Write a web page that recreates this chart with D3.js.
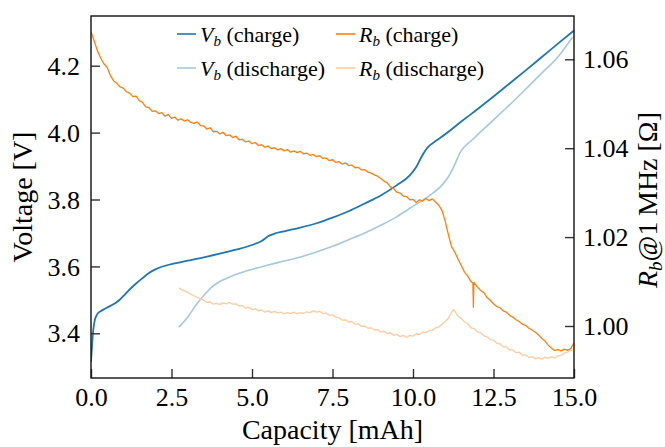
<!DOCTYPE html>
<html>
<head>
<meta charset="utf-8">
<script src="https://cdn.jsdelivr.net/npm/d3@7"></script>
<style>
  html, body { margin: 0; padding: 0; background: #fff; }
  svg { display: block; }
  svg text { font-family: "Liberation Serif", "Times New Roman", Times, Tinos, "DejaVu Serif", serif; fill: #000; }
</style>
</head>
<body>
<svg id="chart" width="665" height="447"></svg>
<script>
// Battery voltage and bulk resistance over one charge / discharge cycle

const xTicks = [0, 2.5, 5, 7.5, 10, 12.5, 15];
const vTicks = [3.4, 3.6, 3.8, 4.0, 4.2];
const rTicks = [1.00, 1.02, 1.04, 1.06];

// [capacity mAh, voltage V]
const vCharge = [
  [0.00, 3.315], [0.03, 3.36], [0.07, 3.41], [0.12, 3.44], [0.2, 3.458], [0.3, 3.466],
  [0.45, 3.474], [0.6, 3.482], [0.75, 3.490], [0.9, 3.501], [1.05, 3.516], [1.2, 3.531],
  [1.4, 3.549], [1.6, 3.565], [1.8, 3.580], [2.0, 3.591], [2.2, 3.599], [2.5, 3.607],
  [3.0, 3.617], [3.5, 3.627], [4.0, 3.638], [4.5, 3.650], [5.0, 3.664], [5.3, 3.676],
  [5.5, 3.690], [5.7, 3.698], [6.0, 3.705], [6.5, 3.716], [7.0, 3.729], [7.5, 3.746],
  [8.0, 3.765], [8.5, 3.788], [9.0, 3.812], [9.5, 3.843], [9.9, 3.872], [10.1, 3.897],
  [10.25, 3.925], [10.45, 3.955], [10.75, 3.978], [11.0, 3.995], [11.5, 4.033],
  [12.0, 4.070], [12.5, 4.108], [13.0, 4.147], [13.5, 4.186], [14.0, 4.226],
  [14.5, 4.266], [15.0, 4.305]
];

const vDischarge = [
  [2.73, 3.418], [3.0, 3.448], [3.25, 3.483], [3.5, 3.513], [3.75, 3.538], [4.0, 3.555],
  [4.25, 3.566], [4.5, 3.576], [4.75, 3.584], [5.0, 3.591], [5.5, 3.604], [6.0, 3.616],
  [6.5, 3.628], [7.0, 3.643], [7.5, 3.660], [8.0, 3.680], [8.5, 3.700], [9.0, 3.723],
  [9.5, 3.749], [10.0, 3.780], [10.5, 3.811], [10.9, 3.843], [11.1, 3.868], [11.3, 3.905],
  [11.45, 3.938], [11.6, 3.958], [11.8, 3.975], [12.0, 3.993], [12.5, 4.038], [13.0, 4.083],
  [13.5, 4.130], [14.0, 4.178], [14.5, 4.226], [14.95, 4.285]
];

// [capacity mAh, resistance Ω at 1 MHz]
const rCharge = [
  [0.0, 1.0662], [0.1, 1.0641], [0.2, 1.0619], [0.3, 1.0603], [0.4, 1.0590], [0.5, 1.0582],
  [0.6, 1.0564], [0.7, 1.0552], [0.8, 1.0546], [0.9, 1.0538], [1.0, 1.0535], [1.1, 1.0527],
  [1.2, 1.0524], [1.3, 1.0516], [1.4, 1.0517], [1.5, 1.0507], [1.6, 1.0503], [1.7, 1.0493],
  [1.8, 1.0491], [1.9, 1.0483], [2.0, 1.0484], [2.1, 1.0478], [2.2, 1.0480], [2.3, 1.0472],
  [2.4, 1.0476], [2.5, 1.0467], [2.6, 1.0470], [2.7, 1.0463], [2.8, 1.0466], [2.9, 1.0461],
  [3.0, 1.0464], [3.1, 1.0458], [3.2, 1.0456], [3.3, 1.0459], [3.4, 1.0451], [3.5, 1.0450],
  [3.6, 1.0443], [3.7, 1.0446], [3.8, 1.0437], [3.9, 1.0438], [4.0, 1.0432], [4.1, 1.0436],
  [4.2, 1.0428], [4.3, 1.0430], [4.4, 1.0424], [4.5, 1.0427], [4.6, 1.0419], [4.7, 1.0420],
  [4.8, 1.0414], [4.9, 1.0416], [5.0, 1.0410], [5.1, 1.0413], [5.2, 1.0406], [5.3, 1.0408],
  [5.4, 1.0402], [5.5, 1.0405], [5.6, 1.0399], [5.7, 1.0401], [5.8, 1.0396], [5.9, 1.0399],
  [6.0, 1.0394], [6.1, 1.0397], [6.2, 1.0391], [6.3, 1.0394], [6.4, 1.0390], [6.5, 1.0393],
  [6.6, 1.0387], [6.7, 1.0389], [6.8, 1.0384], [6.9, 1.0386], [7.0, 1.0381], [7.1, 1.0383],
  [7.2, 1.0377], [7.3, 1.0378], [7.4, 1.0372], [7.5, 1.0374], [7.6, 1.0368], [7.7, 1.0370],
  [7.8, 1.0364], [7.9, 1.0367], [8.0, 1.0361], [8.1, 1.0362], [8.2, 1.0356], [8.3, 1.0357],
  [8.4, 1.0351], [8.5, 1.0352], [8.6, 1.0346], [8.7, 1.0344], [8.8, 1.0340], [8.9, 1.0337],
  [9.0, 1.0332], [9.1, 1.0326], [9.2, 1.0322], [9.3, 1.0313], [9.4, 1.0309], [9.5, 1.0301],
  [9.6, 1.0299], [9.7, 1.0292], [9.8, 1.0291], [9.9, 1.0284], [10.0, 1.0285], [10.1, 1.0278],
  [10.2, 1.0284], [10.3, 1.0281], [10.4, 1.0287], [10.5, 1.0282], [10.6, 1.0286], [10.7, 1.0279],
  [10.8, 1.0272], [10.9, 1.0260], [11.0, 1.0236], [11.1, 1.0205], [11.2, 1.0178], [11.3, 1.0166],
  [11.4, 1.0150], [11.5, 1.0136], [11.6, 1.0121], [11.7, 1.0112], [11.8, 1.0100], [11.86, 1.0096],
  [11.875, 1.0042], [11.89, 1.0098], [12.0, 1.0088], [12.1, 1.0080], [12.2, 1.0075], [12.3, 1.0064],
  [12.4, 1.0058], [12.5, 1.0050], [12.6, 1.0044], [12.7, 1.0041], [12.8, 1.0034], [12.9, 1.0031],
  [13.0, 1.0024], [13.1, 1.0020], [13.2, 1.0014], [13.3, 1.0010], [13.4, 1.0004], [13.5, 1.0001],
  [13.6, 0.9995], [13.7, 0.9991], [13.8, 0.9986], [13.9, 0.9980], [14.0, 0.9972], [14.1, 0.9966],
  [14.2, 0.9957], [14.3, 0.9950], [14.4, 0.9945], [14.5, 0.9947], [14.6, 0.9944], [14.7, 0.9948],
  [14.8, 0.9945], [14.9, 0.9949], [15.0, 0.9962]
];

const rDischarge = [
  [2.73, 1.0086], [2.8, 1.0082], [2.9, 1.0079], [3.0, 1.0076], [3.1, 1.0071], [3.2, 1.0068],
  [3.3, 1.0064], [3.4, 1.0061], [3.5, 1.0058], [3.6, 1.0053], [3.7, 1.0054], [3.8, 1.0049],
  [3.9, 1.0051], [4.0, 1.0048], [4.1, 1.0052], [4.2, 1.0050], [4.3, 1.0053], [4.4, 1.0049],
  [4.5, 1.0050], [4.6, 1.0045], [4.7, 1.0046], [4.8, 1.0040], [4.9, 1.0042], [5.0, 1.0037],
  [5.1, 1.0039], [5.2, 1.0034], [5.3, 1.0036], [5.4, 1.0031], [5.5, 1.0034], [5.6, 1.0030],
  [5.7, 1.0033], [5.8, 1.0029], [5.9, 1.0031], [6.0, 1.0027], [6.1, 1.0030], [6.2, 1.0028],
  [6.3, 1.0031], [6.4, 1.0027], [6.5, 1.0030], [6.6, 1.0028], [6.7, 1.0032], [6.8, 1.0030],
  [6.9, 1.0034], [7.0, 1.0031], [7.1, 1.0033], [7.2, 1.0028], [7.3, 1.0029], [7.4, 1.0024],
  [7.5, 1.0025], [7.6, 1.0020], [7.7, 1.0019], [7.8, 1.0013], [7.9, 1.0014], [8.0, 1.0009],
  [8.1, 1.0010], [8.2, 1.0004], [8.3, 1.0005], [8.4, 0.9999], [8.5, 1.0000], [8.6, 0.9995],
  [8.7, 0.9996], [8.8, 0.9991], [8.9, 0.9992], [9.0, 0.9986], [9.1, 0.9988], [9.2, 0.9983],
  [9.3, 0.9985], [9.4, 0.9979], [9.5, 0.9981], [9.6, 0.9976], [9.7, 0.9979], [9.8, 0.9974],
  [9.9, 0.9979], [10.0, 0.9977], [10.1, 0.9982], [10.2, 0.9981], [10.3, 0.9986], [10.4, 0.9985],
  [10.5, 0.9990], [10.6, 0.9990], [10.7, 0.9996], [10.8, 0.9998], [10.9, 1.0004], [11.0, 1.0010],
  [11.1, 1.0018], [11.2, 1.0031], [11.25, 1.0037], [11.3, 1.0033], [11.4, 1.0022], [11.5, 1.0017],
  [11.6, 1.0009], [11.7, 1.0005], [11.8, 0.9996], [11.9, 0.9994], [12.0, 0.9987], [12.1, 0.9985],
  [12.2, 0.9978], [12.3, 0.9976], [12.4, 0.9969], [12.5, 0.9968], [12.6, 0.9961], [12.7, 0.9960],
  [12.8, 0.9953], [12.9, 0.9953], [13.0, 0.9946], [13.1, 0.9946], [13.2, 0.9940], [13.3, 0.9941],
  [13.4, 0.9934], [13.5, 0.9935], [13.6, 0.9929], [13.7, 0.9931], [13.8, 0.9926], [13.9, 0.9929],
  [14.0, 0.9925], [14.1, 0.9930], [14.2, 0.9927], [14.3, 0.9931], [14.4, 0.9928], [14.5, 0.9933],
  [14.6, 0.9934], [14.7, 0.9939], [14.8, 0.9941], [14.9, 0.9946], [14.95, 0.9944]
];

const colors = {
  vCharge: "#1f77b4",
  vDischarge: "#a5c9e1",
  rCharge: "#ff7f0e",
  rDischarge: "#ffcc9f"
};

const SERIF = '"Liberation Serif", "Times New Roman", Times, Tinos, "DejaVu Serif", serif';
const plot = { left: 91, right: 574, top: 16, bottom: 378 };

const svg = d3.select("#chart");

const x = d3.scaleLinear().domain([0, 15]).range([plot.left, plot.right]);
const yV = d3.scaleLinear().domain([3.2664, 4.3486]).range([plot.bottom, plot.top]);
const yR = d3.scaleLinear().domain([0.98830, 1.06974]).range([plot.bottom, plot.top]);

svg.append("defs").append("clipPath").attr("id", "plotClip")
  .append("rect")
  .attr("x", plot.left).attr("y", plot.top)
  .attr("width", plot.right - plot.left).attr("height", plot.bottom - plot.top);

const lines = svg.append("g").attr("clip-path", "url(#plotClip)");

const lineV = d3.line().x(d => x(d[0])).y(d => yV(d[1])).curve(d3.curveMonotoneX);
const lineR = d3.line().x(d => x(d[0])).y(d => yR(d[1]));

lines.append("path").datum(vCharge).attr("d", lineV)
  .attr("fill", "none").attr("stroke", colors.vCharge).attr("stroke-width", 1.8);
lines.append("path").datum(vDischarge).attr("d", lineV)
  .attr("fill", "none").attr("stroke", colors.vDischarge).attr("stroke-width", 1.6);
lines.append("path").datum(rCharge).attr("d", lineR)
  .attr("fill", "none").attr("stroke", colors.rCharge).attr("stroke-width", 1.3)
  .attr("stroke-linejoin", "round");
lines.append("path").datum(rDischarge).attr("d", lineR)
  .attr("fill", "none").attr("stroke", colors.rDischarge).attr("stroke-width", 1.3)
  .attr("stroke-linejoin", "round");

// Axes with inward ticks
const tickFont = 26;

const gx = svg.append("g").attr("transform", `translate(0,${plot.bottom})`)
  .call(d3.axisBottom(x).tickValues(xTicks).tickFormat(d3.format(".1f"))
    .tickSizeInner(-9).tickSizeOuter(0).tickPadding(0));
gx.selectAll("text").attr("dy", null).attr("y", 28);

const gyL = svg.append("g").attr("transform", `translate(${plot.left},0)`)
  .call(d3.axisLeft(yV).tickValues(vTicks).tickFormat(d3.format(".1f"))
    .tickSizeInner(-9).tickSizeOuter(0).tickPadding(11));

const gyR = svg.append("g").attr("transform", `translate(${plot.right},0)`)
  .call(d3.axisRight(yR).tickValues(rTicks).tickFormat(d3.format(".2f"))
    .tickSizeInner(-9).tickSizeOuter(0).tickPadding(9));

[gx, gyL, gyR].forEach(g => {
  g.attr("font-family", SERIF).attr("font-size", tickFont);
  g.select(".domain").remove();
  g.selectAll(".tick line").attr("stroke", "#333").attr("stroke-width", 1.4);
  g.selectAll(".tick text").attr("fill", "#000");
});
gyL.selectAll(".tick text").attr("dy", "0.33em");
gyR.selectAll(".tick text").attr("dy", "0.33em");

// Frame
svg.append("rect")
  .attr("x", plot.left).attr("y", plot.top)
  .attr("width", plot.right - plot.left).attr("height", plot.bottom - plot.top)
  .attr("fill", "none").attr("stroke", "#111").attr("stroke-width", 1.4);

// Axis titles
const labelFont = 28;
svg.append("text")
  .attr("x", (plot.left + plot.right) / 2).attr("y", 439)
  .attr("text-anchor", "middle")
  .attr("font-family", SERIF).attr("font-size", labelFont)
  .text("Capacity [mAh]");

svg.append("text")
  .attr("transform", `translate(32,${(plot.top + plot.bottom) / 2}) rotate(-90)`)
  .attr("text-anchor", "middle")
  .attr("font-family", SERIF).attr("font-size", labelFont)
  .text("Voltage [V]");

const rLabel = svg.append("text")
  .attr("transform", `translate(657,${(plot.top + plot.bottom) / 2 + 3}) rotate(-90)`)
  .attr("text-anchor", "middle")
  .attr("font-family", SERIF).attr("font-size", labelFont);
rLabel.append("tspan").attr("font-style", "italic").text("R");
rLabel.append("tspan").attr("font-style", "italic").attr("font-size", 19)
  .attr("dy", 5).text("b");
rLabel.append("tspan").attr("dy", -5).text("@1\u2009MHz [\u03A9]");

// Legend, two columns
const legendFont = 22;
const legendItems = [
  { sym: "V", note: "(charge)", color: colors.vCharge, col: 0, row: 0 },
  { sym: "V", note: "(discharge)", color: colors.vDischarge, col: 0, row: 1 },
  { sym: "R", note: "(charge)", color: colors.rCharge, col: 1, row: 0 },
  { sym: "R", note: "(discharge)", color: colors.rDischarge, col: 1, row: 1 }
];
const colX = [177, 336];
const rowY = [34, 68];

const lg = svg.append("g").attr("font-family", SERIF);
legendItems.forEach(it => {
  const x0 = colX[it.col], y0 = rowY[it.row];
  lg.append("line")
    .attr("x1", x0).attr("x2", x0 + 19).attr("y1", y0).attr("y2", y0)
    .attr("stroke", it.color).attr("stroke-width", 1.6);
  const t = lg.append("text")
    .attr("x", x0 + 23).attr("y", y0 + 7.5)
    .attr("font-size", legendFont);
  t.append("tspan").attr("font-style", "italic").text(it.sym);
  t.append("tspan").attr("font-style", "italic").attr("font-size", 15)
    .attr("dy", 4).text("b");
  t.append("tspan").attr("dy", -4).text("\u00A0" + it.note);
});
</script>
</body>
</html>
